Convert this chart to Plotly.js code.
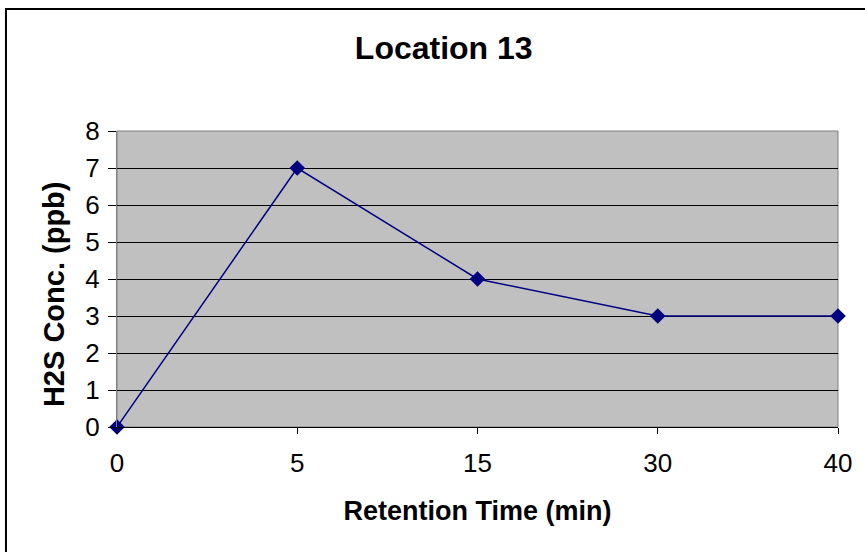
<!DOCTYPE html>
<html>
<head>
<meta charset="utf-8">
<script src="https://cdn.plot.ly/plotly-3.0.1.min.js"></script>
<style>html,body{margin:0;padding:0;background:#fff;}#chart{width:865px;height:552px;}</style>
</head>
<body>
<div id="chart"></div>
<script>
var categories = ["0", "5", "15", "30", "40"];
var h2sConc = [0, 7, 4, 3, 3];
var yTicks = [0, 1, 2, 3, 4, 5, 6, 7, 8];

var trace = {
  x: categories,
  y: h2sConc,
  type: "scatter",
  mode: "lines+markers",
  line: {color: "#000080", width: 1.5},
  marker: {symbol: "diamond", size: 12, color: "#000080"},
  cliponaxis: false,
  hoverinfo: "skip"
};

var layout = {
  width: 865, height: 552,
  margin: {l: 117, r: 27, t: 131, b: 125},
  paper_bgcolor: "#ffffff",
  plot_bgcolor: "#C0C0C0",
  showlegend: false,
  font: {family: "Liberation Sans, Arial, sans-serif", color: "#000"},
  title: {text: "<b>Location 13</b>", font: {size: 32, color: "#000"}, x: 0.513, xanchor: "center", y: 0.913, yanchor: "middle"},
  xaxis: {
    type: "category",
    categoryorder: "array",
    categoryarray: categories,
    range: [0, categories.length - 1],
    showgrid: false,
    zeroline: false,
    showline: true, linecolor: "#000", linewidth: 1,
    ticks: "outside", ticklen: 6, tickcolor: "#000", tickwidth: 1,
    tickfont: {size: 26, color: "#000"},
    ticklabelstandoff: 7,
    title: {text: "<b>Retention Time (min)</b>", font: {size: 27, color: "#000"}, standoff: 23}
  },
  yaxis: {
    range: [0, 8],
    tickvals: yTicks,
    showgrid: true, gridcolor: "#000", gridwidth: 1,
    zeroline: false,
    showline: true, linecolor: "#808080", linewidth: 1,
    ticks: "outside", ticklen: 8, tickcolor: "#000", tickwidth: 1,
    tickfont: {size: 26, color: "#000"},
    ticklabelstandoff: 3
  },
  annotations: [
    {text: "<b>H2S Conc. (ppb)</b>", xref: "paper", yref: "paper",
     x: -0.087, y: 0.45, xanchor: "center", yanchor: "middle", textangle: -90,
     showarrow: false, font: {size: 29, color: "#000"}}
  ],
  shapes: [
    {type: "rect", xref: "paper", yref: "paper", x0: 0, x1: 1, y0: 0, y1: 1,
     line: {color: "#808080", width: 1}, layer: "below"},
    {type: "rect", xref: "paper", yref: "paper", x0: -0.1540, x1: 1.06, y0: -0.5, y1: 1.4122,
     line: {color: "#000", width: 2}, fillcolor: "rgba(0,0,0,0)"}
  ]
};

Plotly.newPlot("chart", [trace], layout, {displayModeBar: false, staticPlot: true});
</script>
</body>
</html>
